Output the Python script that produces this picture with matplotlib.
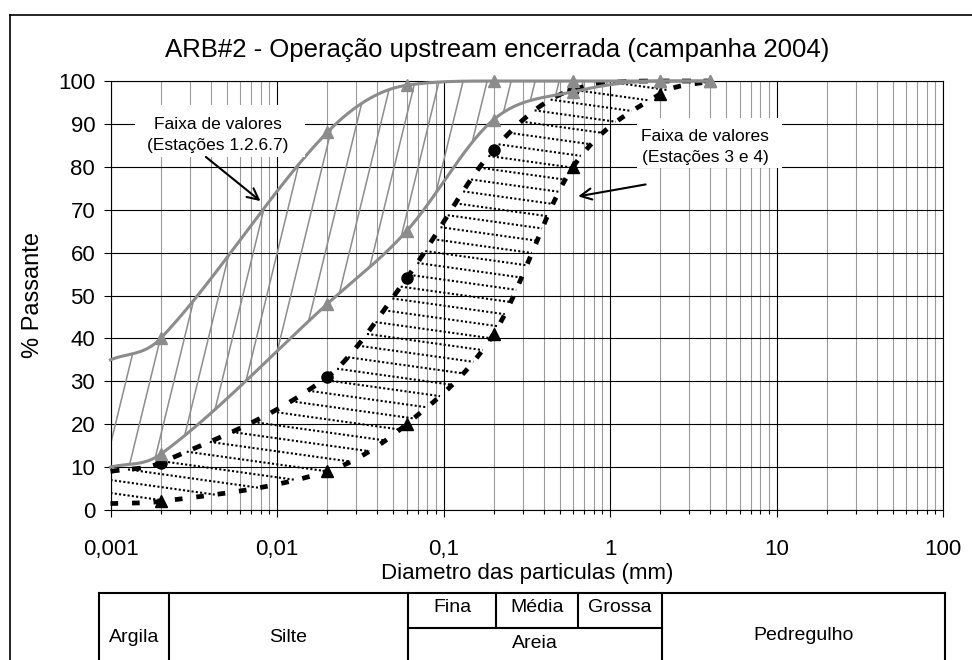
import numpy as np
import matplotlib
matplotlib.use('Agg')
import matplotlib.pyplot as plt
from matplotlib.patches import Rectangle
from matplotlib.lines import Line2D

plt.rcParams['font.family'] = ['Liberation Sans', 'DejaVu Sans']
plt.rcParams['lines.scale_dashes'] = False

# granulometria - diametros (mm) e % passante
diam = [0.001, 0.002, 0.02, 0.06, 0.2, 0.6, 2, 4]
est1267_sup = [35, 40, 88, 99, 100, 100, 100, 100]
est1267_inf = [10, 13, 48, 65, 91, 97.5, 100, 100]
est34_sup = [9, 11, 31, 54, 84, 98, 100, 100]
est34_inf = [1.5, 2, 9, 20, 41, 80, 97, 100]

xticks = [0.001, 0.01, 0.1, 1, 10, 100]
xtick_labels = ['0,001', '0,01', '0,1', '1', '10', '100']
yticks = list(range(0, 101, 10))

# classificacao (limites em px da figura)
classes_baixo = ['Argila', 'Silte', 'Areia', 'Pedregulho']
classes_areia = ['Fina', 'Média', 'Grossa']

W, H = 972, 660
def fx(x):
    return x / W
def fy(y):
    return 1 - y / H

# axes in pixels
AX_L, AX_R, AX_T, AX_B = 110.5, 943.0, 81.0, 510.0
px_dec = (AX_R - AX_L) / 5.0
px_unit = (AX_B - AX_T) / 100.0


def smooth(xs, ys, n=60):
    # linha suavizada: hermite monotona em log(x)
    u = np.log10(xs)
    y = np.asarray(ys, float)
    h = np.diff(u)
    d = np.diff(y) / h
    m = np.empty_like(y)
    m[0], m[-1] = d[0], d[-1]
    m[1:-1] = (y[2:] - y[:-2]) / (u[2:] - u[:-2])
    for k in range(len(d)):
        if d[k] == 0:
            m[k] = m[k + 1] = 0
            continue
        a, b = m[k] / d[k], m[k + 1] / d[k]
        s = a * a + b * b
        if s > 9:
            t = 3 / np.sqrt(s)
            m[k], m[k + 1] = t * a * d[k], t * b * d[k]
    uu, yy = [], []
    for k in range(len(d)):
        t = np.linspace(0, 1, n)
        if k > 0:
            t = t[1:]
        h00 = 2 * t**3 - 3 * t**2 + 1
        h10 = t**3 - 2 * t**2 + t
        h01 = -2 * t**3 + 3 * t**2
        h11 = t**3 - t**2
        uu.append(u[k] + t * h[k])
        yy.append(h00 * y[k] + h10 * h[k] * m[k] + h01 * y[k + 1] + h11 * h[k] * m[k + 1])
    return np.concatenate(uu), np.concatenate(yy)


def hatch(lo, hi, Yfun, params):
    segs = []
    X = np.linspace(0, AX_R - AX_L, 4000)
    u = X / px_dec - 3
    ylo = np.interp(u, lo[0], lo[1], right=np.nan)
    yhi = np.interp(u, hi[0], hi[1], right=np.nan)
    for c in params:
        y = Yfun(X, c) / px_unit
        m = (y >= ylo) & (y <= yhi) & (y >= 0) & (y <= 100)
        idx = np.where(m)[0]
        if len(idx) < 2:
            continue
        runs = np.split(idx, np.where(np.diff(idx) > 1)[0] + 1)
        r = max(runs, key=len)
        if len(r) < 2:
            continue
        segs.append(([10**u[r[0]], 10**u[r[-1]]], [y[r[0]], y[r[-1]]]))
    return segs


fig = plt.figure(figsize=(9.72, 6.6), dpi=100)
ax = fig.add_axes([fx(AX_L), fy(AX_B), (AX_R - AX_L) / W, (AX_B - AX_T) / H])

g_sup = smooth(diam, est1267_sup)
g_inf = smooth(diam, est1267_inf)
b_sup = smooth(diam, est34_sup)
b_inf = smooth(diam, est34_inf)

# hachuras
for xs, ys in hatch(g_inf, g_sup, lambda X, c: 4.1 * (X - c), np.arange(-40, 580, 24)):
    ax.plot(xs, ys, color='#8c8c8c', lw=1.1, zorder=2)
for xs, ys in hatch(b_inf, b_sup, lambda X, d: d - 0.14 * X, np.arange(4, 530, 13)):
    ax.plot(xs, ys, color='black', lw=1.5, ls=(0, (1.5, 1.6)), zorder=2)

# faixa estacoes 3 e 4
ax.plot(10**b_sup[0], b_sup[1], color='black', lw=3.4, ls=(0, (6.5, 9)), zorder=3, clip_on=False)
ax.plot(10**b_inf[0], b_inf[1], color='black', lw=3.4, ls=(0, (5.5, 10)), zorder=3, clip_on=False)
ax.plot(diam[1:6], est34_sup[1:6], 'o', color='black', ms=8, zorder=4, clip_on=False)
ax.plot(diam[1:7], est34_inf[1:7], '^', color='black', ms=9, zorder=4, clip_on=False)

# faixa estacoes 1,2,6,7
ax.plot(10**g_sup[0], g_sup[1], color='#8c8c8c', lw=2.2, zorder=5, clip_on=False)
ax.plot(10**g_inf[0], g_inf[1], color='#8c8c8c', lw=2.2, zorder=5, clip_on=False)
ax.plot(diam[1:], est1267_sup[1:], '^', color='#8c8c8c', ms=8, zorder=6, clip_on=False)
ax.plot(diam[1:], est1267_inf[1:], '^', color='#8c8c8c', ms=8, zorder=6, clip_on=False)

ax.set_xscale('log')
ax.set_xlim(0.001, 100)
ax.set_ylim(0, 100)
ax.set_xticks(xticks)
ax.set_xticklabels(xtick_labels)
ax.set_yticks(yticks)
ax.grid(True, which='major', color='black', lw=0.8)
ax.grid(True, which='minor', axis='x', color='#9a9a9a', lw=0.8)
ax.tick_params(axis='both', which='major', labelsize=16, length=5, width=0.8, pad=6)
ax.tick_params(axis='x', which='major', pad=16)
ax.tick_params(axis='x', which='minor', length=3, width=0.8)
ax.tick_params(axis='y', which='minor', left=False)
for s in ax.spines.values():
    s.set_linewidth(0.8)

# caixas brancas dos textos
ax.add_patch(Rectangle((fx(135), fy(157)), fx(305) - fx(135), fy(105) - fy(157),
                       transform=fig.transFigure, fc='white', ec='none', zorder=7))
ax.add_patch(Rectangle((fx(637), fy(168)), fx(782) - fx(637), fy(118) - fy(168),
                       transform=fig.transFigure, fc='white', ec='none', zorder=7))
ax.text(fx(218), fy(135), 'Faixa de valores\n(Estações 1.2.6.7)', transform=fig.transFigure,
        ha='center', va='center', fontsize=12.5, linespacing=1.55, zorder=8)
ax.text(fx(705), fy(147), 'Faixa de valores\n(Estações 3 e 4)', transform=fig.transFigure,
        ha='center', va='center', fontsize=12.5, linespacing=1.55, zorder=8)

ax.annotate('', xy=(0.0082, 71.6), xytext=(0.00363, 82.7),
            arrowprops=dict(arrowstyle='->', color='black', lw=1.5, mutation_scale=20), zorder=8)
ax.annotate('', xy=(0.62, 73), xytext=(1.7, 76),
            arrowprops=dict(arrowstyle='->', color='black', lw=1.5, mutation_scale=20), zorder=8)

fig.text(fx(497), fy(50), 'ARB#2 - Operação upstream encerrada (campanha 2004)',
         ha='center', va='center', fontsize=18.5)
fig.text(fx(33), fy(295), '% Passante', rotation=90, ha='center', va='center', fontsize=17)
fig.text(fx(527), fy(574), 'Diametro das particulas (mm)', ha='center', va='center', fontsize=16)

# moldura
fig.add_artist(Line2D([fx(10), fx(10)], [fy(15), fy(H)], color='black', lw=1.2))
fig.add_artist(Line2D([fx(10), fx(W)], [fy(15), fy(15)], color='black', lw=1.2))

# tabela de classificacao
tab_top, tab_mid = 593, 628
cols = [99, 169, 408, 662, 945]
sub_cols = [496, 578]
fig.add_artist(Line2D([fx(cols[0]), fx(cols[-1])], [fy(tab_top), fy(tab_top)], color='black', lw=1.5))
fig.add_artist(Line2D([fx(cols[2]), fx(cols[3])], [fy(tab_mid), fy(tab_mid)], color='black', lw=1.5))
for c in cols:
    fig.add_artist(Line2D([fx(c), fx(c)], [fy(tab_top), fy(H)], color='black', lw=1.5))
for c in sub_cols:
    fig.add_artist(Line2D([fx(c), fx(c)], [fy(tab_top), fy(tab_mid)], color='black', lw=1.5))

low_y = [638, 638, 643, 636]
for i, nome in enumerate(classes_baixo):
    fig.text(fx((cols[i] + cols[i + 1]) / 2), fy(low_y[i]), nome,
             ha='center', va='center', fontsize=14)
sub_edges = [cols[2]] + sub_cols + [cols[3]]
for i, nome in enumerate(classes_areia):
    fig.text(fx((sub_edges[i] + sub_edges[i + 1]) / 2), fy(608), nome,
             ha='center', va='center', fontsize=14)

fig.savefig('out.png', dpi=100)
